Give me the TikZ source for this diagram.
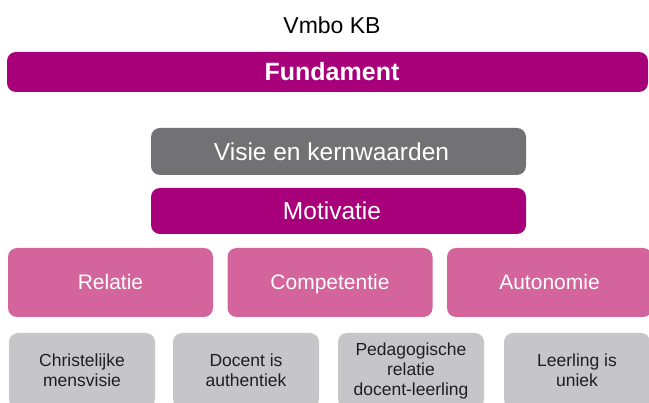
\documentclass[tikz,border=0pt]{standalone}
\usepackage{fontspec}
\setmainfont{Liberation Sans}
\usepackage{tikz}

\definecolor{paars}{RGB}{168,0,122}
\definecolor{donkergrijs}{RGB}{114,114,117}
\definecolor{roze}{RGB}{212,100,156}
\definecolor{lichtgrijs}{RGB}{198,198,200}

\begin{document}
\begin{tikzpicture}[x=1pt,y=-1pt,
	blok/.style={rounded corners=9pt,inner sep=0pt,text=white,align=center},
	balk/.style={blok,minimum width=375pt,font=\fontsize{24.5}{28}\selectfont},
	pijler/.style={blok,fill=roze,minimum width=205pt,minimum height=69pt,
		text height=15pt,text depth=0pt,font=\fontsize{21}{24}\selectfont},
	waarde/.style={blok,fill=lichtgrijs,text=black!88,minimum width=146pt,
		minimum height=75pt,font=\fontsize{17.5}{20}\selectfont}]
	
	\useasboundingbox (0,0) rectangle (649,403);
	\clip (0,0) rectangle (649,403);
	
	%titel en fundament
	\node (titel) at (332,25) {\fontsize{23}{26}\selectfont Vmbo KB};
	\node (fund) at (327.5,72) [blok,fill=paars,minimum width=641pt,minimum height=40pt,
		font=\fontsize{25}{28}\selectfont\bfseries]{\hspace*{9pt}Fundament};
	
	%visie en motivatie
	\node (visie) at (338.5,151.5) [balk,fill=donkergrijs,minimum height=47pt]{Visie en kernwaarden\hspace*{14pt}};
	\node (motivatie) at (338.5,211) [balk,fill=paars,minimum height=46pt]{Motivatie\hspace*{13pt}};
	
	%drie pijlers
	\foreach \x/\n/\t in {110.5/relatie/Relatie,330/competentie/Competentie,549.5/autonomie/Autonomie} {
		\node (\n) at (\x,282.5) [pijler]{\t};
	}
	
	%kernwaarden onderaan
	\foreach \x/\n/\t in {82/mensvisie/{Christelijke\\mensvisie},
		246/docent/{Docent is\\authentiek},
		411/pedrelatie/{Pedagogische\\relatie\\docent-leerling},
		577/leerling/{Leerling is\\uniek}} {
		\node (\n) at (\x,370.5) [waarde]{\t};
	}
	
\end{tikzpicture}
\end{document}
